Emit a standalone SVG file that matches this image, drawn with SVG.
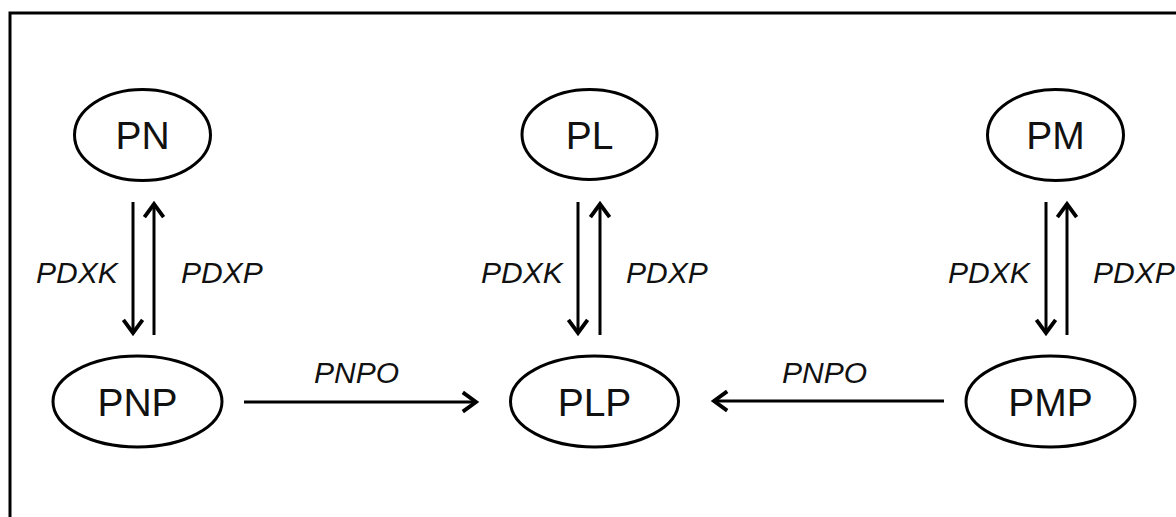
<svg xmlns="http://www.w3.org/2000/svg" width="1176" height="517" viewBox="0 0 1176 517">
<defs>
<style>
.node ellipse{fill:#fff;stroke:#000;stroke-width:3}
.node text{font-family:"Liberation Sans",Arial,sans-serif;font-size:39px;text-anchor:middle;fill:#111}
.lbl{font-family:"Liberation Sans",Arial,sans-serif;font-size:30px;font-style:italic;fill:#111}
.edge{stroke:#000;stroke-width:3;fill:none;marker-end:url(#ah)}
</style>
<marker id="ah" markerUnits="userSpaceOnUse" markerWidth="24" markerHeight="24" viewBox="-14 -10 16 20" refX="0" refY="0" orient="auto">
<path d="M-11,-8 L0,0 L-11,8" fill="none" stroke="#000" stroke-width="3.2" stroke-linejoin="miter"/>
</marker>
</defs>
<rect width="1176" height="517" fill="#fff"/>
<path d="M10,517 L10,13 L1176,13" fill="none" stroke="#000" stroke-width="3"/>
<g id="connectors">
<line class="edge" x1="133" y1="202" x2="133" y2="333"/>
<line class="edge" x1="154" y1="335" x2="154" y2="204"/>
<line class="edge" x1="578" y1="202" x2="578" y2="333"/>
<line class="edge" x1="600" y1="335" x2="600" y2="204"/>
<line class="edge" x1="1046" y1="202" x2="1046" y2="333"/>
<line class="edge" x1="1067" y1="335" x2="1067" y2="204"/>
<line class="edge" x1="244" y1="402" x2="476" y2="402"/>
<line class="edge" x1="944" y1="401" x2="714" y2="401"/>
<text class="lbl" x="36" y="283">PDXK</text>
<text class="lbl" x="181" y="283">PDXP</text>
<text class="lbl" x="481" y="283">PDXK</text>
<text class="lbl" x="626" y="283">PDXP</text>
<text class="lbl" x="948" y="283">PDXK</text>
<text class="lbl" x="1093" y="283">PDXP</text>
<text class="lbl" x="314" y="383">PNPO</text>
<text class="lbl" x="782" y="383">PNPO</text>
</g>
<g id="PN" class="node"><ellipse cx="142.5" cy="135" rx="68" ry="45.5"/><text x="142.5" y="149">PN</text></g>
<g id="PL" class="node"><ellipse cx="589.5" cy="134.5" rx="67.5" ry="45"/><text x="589.5" y="149">PL</text></g>
<g id="PM" class="node"><ellipse cx="1055.5" cy="135" rx="68" ry="45.5"/><text x="1055.5" y="149">PM</text></g>
<g id="PNP" class="node"><ellipse cx="137.5" cy="401.5" rx="84.5" ry="45.5"/><text x="137.5" y="416">PNP</text></g>
<g id="PLP" class="node"><ellipse cx="594.5" cy="401.5" rx="84" ry="45.5"/><text x="594.5" y="416">PLP</text></g>
<g id="PMP" class="node"><ellipse cx="1050.5" cy="401.5" rx="84.5" ry="45.5"/><text x="1050.5" y="416">PMP</text></g>
</svg>
